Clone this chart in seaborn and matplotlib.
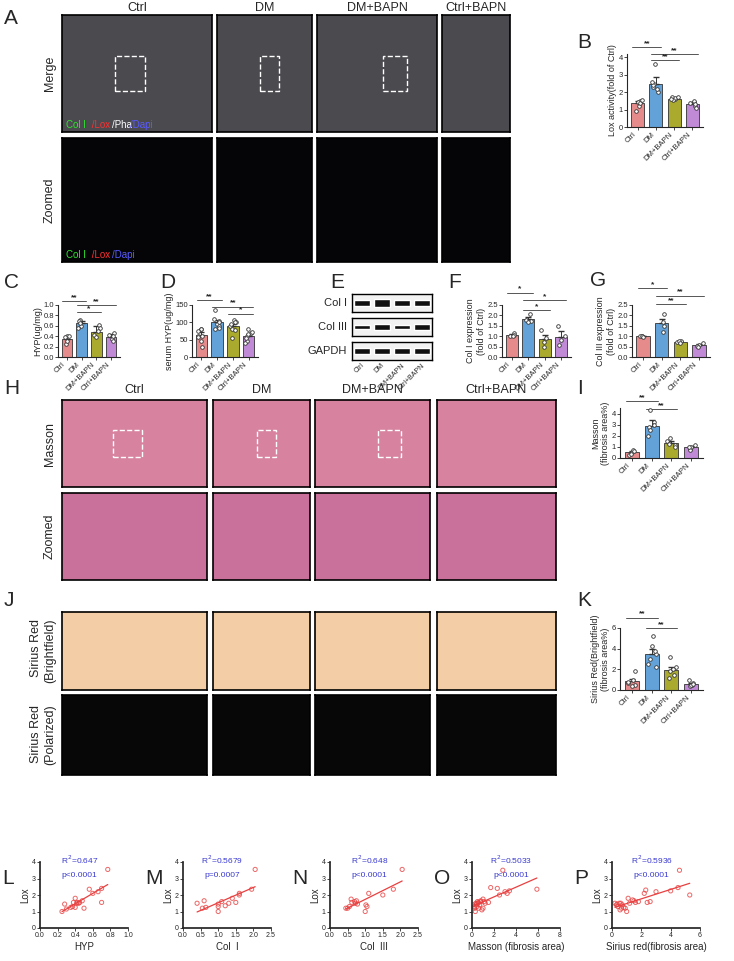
import numpy as np
import pandas as pd
import matplotlib
matplotlib.use("Agg")
import matplotlib.pyplot as plt
import seaborn as sns
from matplotlib.patches import Rectangle

sns.set_theme(style="ticks")
plt.rcParams['font.family'] = ['Liberation Sans', 'DejaVu Sans']

groups = ["Ctrl", "DM", "DM+BAPN", "Ctrl+BAPN"]
colors = ["#F47C7C", "#4FA3EC", "#BFBF1A", "#C77DE3"]

# bar panels: means, sem, points
B_mean = [1.38, 2.45, 1.62, 1.33]; B_sem = [0.1, 0.45, 0.07, 0.08]
B_pts = [[1.5, 1.45, 1.2, 0.9, 1.4, 1.55], [3.6, 2.5, 2.3, 2.0, 2.4, 2.2, 2.6], [1.6, 1.7, 1.65, 1.55, 1.6, 1.75], [1.45, 1.5, 1.2, 1.35, 1.4, 1.1]]
C_mean = [0.35, 0.65, 0.49, 0.39]; C_sem = [0.05, 0.05, 0.1, 0.06]
C_pts = [[0.41, 0.4, 0.25, 0.3, 0.38], [0.72, 0.7, 0.6, 0.55, 0.66], [0.62, 0.55, 0.42, 0.38, 0.5], [0.46, 0.42, 0.35, 0.3, 0.41]]
D_mean = [64, 100, 88, 61]; D_sem = [7, 7, 8, 6]
D_pts = [[82, 80, 60, 45, 62, 75, 30, 58], [135, 105, 95, 80, 100, 110, 90, 85], [108, 100, 90, 80, 55, 95, 78, 100], [80, 70, 60, 45, 55, 65, 40, 72]]
F_mean = [1.05, 1.82, 0.86, 0.98]; F_sem = [0.07, 0.12, 0.2, 0.25]
F_pts = [[1.15, 1.05, 1.0, 1.02], [2.05, 1.75, 1.8, 1.7], [1.3, 0.9, 0.5, 0.7], [1.5, 1.0, 0.6, 0.8]]
G_mean = [1.0, 1.62, 0.73, 0.57]; G_sem = [0.02, 0.2, 0.03, 0.05]
G_pts = [[1.0, 1.0, 1.02, 0.98], [2.05, 1.5, 1.2, 1.7], [0.75, 0.7, 0.76, 0.68], [0.6, 0.55, 0.5, 0.65]]
I_mean = [0.5, 2.9, 1.35, 0.95]; I_sem = [0.1, 0.5, 0.2, 0.12]
I_pts = [[0.3, 0.5, 0.7, 0.4, 0.6], [4.3, 3.2, 2.8, 2.0, 2.5, 3.0], [1.8, 1.2, 1.5, 1.0, 1.3], [1.2, 0.8, 1.0, 0.7, 1.0]]
K_mean = [0.85, 3.45, 1.95, 0.6]; K_sem = [0.2, 0.5, 0.3, 0.1]
K_pts = [[1.8, 1.0, 0.5, 0.7, 0.4, 0.8], [5.2, 4.3, 3.5, 2.5, 3.0, 2.2, 3.8], [3.2, 2.2, 1.8, 1.2, 1.5, 2.0], [1.0, 0.7, 0.5, 0.4, 0.5, 0.6]]

# scatter panels
L_x = [0.25, 0.28, 0.3, 0.35, 0.37, 0.38, 0.4, 0.4, 0.42, 0.42, 0.44, 0.45, 0.48, 0.5, 0.56, 0.6, 0.66, 0.7, 0.7, 0.77]
L_y = [1.0, 1.45, 1.15, 1.25, 1.3, 1.55, 1.8, 1.25, 1.5, 1.55, 1.5, 1.55, 1.65, 1.2, 2.35, 2.1, 2.2, 1.55, 2.4, 3.55]
M_x = [0.4, 0.55, 0.6, 0.65, 1.0, 1.0, 1.0, 1.1, 1.2, 1.3, 1.4, 1.5, 1.6, 1.6, 1.95, 2.05]
M_y = [1.5, 1.2, 1.65, 1.25, 1.0, 1.3, 1.45, 1.6, 1.35, 1.5, 1.8, 1.55, 2.0, 2.1, 2.35, 3.55]
N_x = [0.45, 0.5, 0.55, 0.6, 0.62, 0.7, 0.72, 0.75, 0.78, 1.0, 1.02, 1.05, 1.1, 1.5, 1.8, 2.05]
N_y = [1.2, 1.2, 1.3, 1.75, 1.55, 1.6, 1.5, 1.65, 1.45, 1.0, 1.4, 1.3, 2.1, 2.0, 2.35, 3.55]
O_x = [0.1, 0.2, 0.25, 0.3, 0.35, 0.4, 0.45, 0.5, 0.55, 0.6, 0.7, 0.8, 0.9, 1.0, 1.0, 1.2, 1.5, 1.7, 2.3, 2.5, 2.8, 3.0, 3.2, 3.4, 5.9, 0.8, 0.6, 1.1]
O_y = [1.4, 1.3, 1.2, 1.0, 1.5, 1.45, 1.3, 1.6, 1.5, 1.55, 1.4, 1.6, 1.1, 1.2, 1.75, 1.5, 1.55, 2.45, 2.4, 2.0, 3.5, 2.2, 2.1, 2.25, 2.35, 1.65, 1.2, 1.6]
P_x = [0.2, 0.3, 0.35, 0.4, 0.5, 0.55, 0.6, 0.65, 0.7, 0.8, 0.9, 1.0, 1.1, 1.2, 1.4, 1.5, 1.6, 1.8, 2.2, 2.3, 2.4, 2.6, 3.0, 4.0, 4.5, 4.6, 5.3]
P_y = [1.5, 1.4, 1.45, 1.3, 1.5, 1.1, 1.5, 1.2, 1.4, 1.25, 1.2, 1.0, 1.8, 1.5, 1.7, 1.65, 1.55, 1.6, 2.1, 2.3, 1.55, 1.6, 2.2, 2.25, 2.45, 3.5, 2.0]

W, H = 734, 961
fig = plt.figure(figsize=(W / 100, H / 100), dpi=100)
fig.patch.set_facecolor("white")

def ax_px(x0, y0, x1, y1):
    return fig.add_axes([x0 / W, 1 - y1 / H, (x1 - x0) / W, (y1 - y0) / H])

def letter(x, y, s):
    fig.text(x / W, 1 - y / H, s, fontsize=15, ha="left", va="center")

def img_panel(cols, y0, y1, color, rowlabel, box=False):
    for i, (x0, x1) in enumerate(cols):
        a = ax_px(x0, y0, x1, y1)
        a.set_facecolor(color)
        a.set_xticks([]); a.set_yticks([])
        for s in a.spines.values():
            s.set_color("black"); s.set_linewidth(1.2)
        if box and i < 3:
            a.add_patch(Rectangle((0.35 + 0.1 * i, 0.35), 0.2, 0.3, transform=a.transAxes,
                                  fill=False, ls="--", ec="white", lw=1))
    fig.text((cols[0][0] - 6) / W, 1 - (y0 + y1) / 2 / H, rowlabel, rotation=90,
             ha="right", va="center", fontsize=9)

def bar_panel(rect, mean, sem, pts, ylim, ticks, ylabel, sigs, fmt="{:g}"):
    a = ax_px(*rect)
    df = pd.DataFrame({"g": groups, "v": mean})
    sns.barplot(data=df, x="g", y="v", hue="g", palette=colors, ax=a, width=0.72,
                edgecolor="#333333", linewidth=0.6, legend=False)
    a.errorbar(range(4), mean, yerr=[[0] * 4, sem], fmt="none", ecolor="#333333", elinewidth=0.7, capsize=2)
    pdf = pd.DataFrame({"g": [groups[i] for i in range(4) for _ in pts[i]],
                        "v": [v for p in pts for v in p]})
    sns.stripplot(data=pdf, x="g", y="v", ax=a, color="white", edgecolor="#333333",
                  linewidth=0.6, size=2.6, jitter=0.22, marker="o")
    a.set_ylim(*ylim); a.set_yticks(ticks)
    a.set_yticklabels([fmt.format(t) for t in ticks], fontsize=5.5)
    a.set_xlim(-0.6, 3.6)
    a.set_xticks(range(4)); a.set_xticklabels(groups, rotation=45, ha="right", fontsize=5.5)
    a.set_xlabel(""); a.set_ylabel(ylabel, fontsize=6.5, labelpad=1)
    sns.despine(ax=a)
    a.tick_params(length=2, width=0.6, pad=1)
    for sp in ["left", "bottom"]:
        a.spines[sp].set_linewidth(0.8)
    for (i, j, h, s) in sigs:
        a.plot([i - 0.3, j + 0.3], [h, h], color="#555555", lw=0.7, clip_on=False)
        a.text((i + j) / 2, h, s, ha="center", va="bottom", fontsize=6, fontweight="bold")
    return a

# ---------- A ----------
letter(4, 18, "A")
colsA = [(62, 212), (217, 312), (317, 437), (442, 510)]
for (x0, x1), g in zip(colsA, groups):
    fig.text((x0 + x1) / 2 / W, 1 - 8 / H, g, ha="center", va="center", fontsize=9)
img_panel(colsA, 15, 132, "#4a4a4f", "Merge", box=True)
img_panel(colsA, 138, 262, "#050508", "Zoomed")
for yy, parts in [(125, [("Col I", "#2ee62e"), (" /Lox", "#ff3030"), ("/Pha", "white"), ("/Dapi", "#5a5aff")]),
                  (255, [("Col I", "#2ee62e"), (" /Lox", "#ff3030"), ("/Dapi", "#5a5aff")])]:
    x = 66
    for s, c in parts:
        fig.text(x / W, 1 - yy / H, s, color=c, fontsize=7, va="center")
        x += 4.6 * len(s)

# ---------- B ----------
letter(577, 43, "B")
bar_panel((627, 54, 703, 127), B_mean, B_sem, B_pts, (0, 4.2), [0, 1, 2, 3, 4],
          "Lox activity(fold of Ctrl)", [(0, 1, 4.6, "**"), (1, 2, 3.85, "**"), (1, 3, 4.2, "**")])

# ---------- C D E F G ----------
letter(4, 282, "C"); letter(160, 282, "D"); letter(330, 282, "E"); letter(448, 282, "F"); letter(590, 280, "G")
bar_panel((58, 305, 120, 357), C_mean, C_sem, C_pts, (0, 1.0), [0, 0.2, 0.4, 0.6, 0.8, 1.0],
          "HYP(ug/mg)", [(0, 1, 1.08, "**"), (1, 2, 0.86, "*"), (1, 3, 1.0, "**")], fmt="{:.1f}")
bar_panel((192, 305, 258, 357), D_mean, D_sem, D_pts, (0, 150), [0, 50, 100, 150],
          "serum HYP(ug/mg)", [(0, 1, 165, "**"), (2, 3, 125, "*"), (1, 3, 145, "**")])
bar_panel((502, 305, 571, 357), F_mean, F_sem, F_pts, (0, 2.5), [0, 0.5, 1.0, 1.5, 2.0, 2.5],
          "Col I expression\n(fold of Ctrl)", [(0, 1, 3.1, "*"), (1, 2, 2.25, "*"), (1, 3, 2.75, "*")], fmt="{:.1f}")
bar_panel((632, 305, 710, 357), G_mean, G_sem, G_pts, (0, 2.5), [0, 0.5, 1.0, 1.5, 2.0, 2.5],
          "Col III expression\n(fold of Ctrl)", [(0, 1, 3.3, "*"), (1, 2, 2.55, "**"), (1, 3, 2.95, "**")], fmt="{:.1f}")

# western blot
blot_rows = ["Col I", "Col III", "GAPDH"]
blot_y = [303, 327, 351]
band_int = [[0.75, 0.95, 0.7, 0.75], [0.6, 0.75, 0.6, 0.65], [0.85, 0.85, 0.8, 0.85]]
for name, yc, ints in zip(blot_rows, blot_y, band_int):
    a = ax_px(352, yc - 9, 432, yc + 9)
    a.set_facecolor("#f2f2f2")
    sns.barplot(x=list(range(4)), y=ints, color="#111111", ax=a, width=0.8)
    a.set_ylim(-0.6, 1.6)
    for p, v in zip(a.patches, ints):
        p.set_y(0.5 - v / 2); p.set_height(v)
    a.set_xticks([]); a.set_yticks([]); a.set_xlabel(""); a.set_ylabel("")
    for s in a.spines.values():
        s.set_linewidth(1.0); s.set_color("black")
    fig.text(347 / W, 1 - yc / H, name, ha="right", va="center", fontsize=8)
for i, g in enumerate(groups):
    fig.text((366 + 20 * i) / W, 1 - 362 / H, g, rotation=45, ha="right", va="top", fontsize=5)

# ---------- H ----------
letter(4, 388, "H")
colsH = [(62, 207), (213, 310), (315, 430), (437, 556)]
for (x0, x1), g in zip(colsH, groups):
    fig.text((x0 + x1) / 2 / W, 1 - 390 / H, g, ha="center", va="center", fontsize=9)
img_panel(colsH, 400, 487, "#d7839f", "Masson", box=True)
img_panel(colsH, 493, 580, "#c9719a", "Zoomed")

letter(577, 388, "I")
bar_panel((620, 408, 703, 458), I_mean, I_sem, I_pts, (0, 4.5), [0, 1, 2, 3, 4],
          "Masson\n(fibrosis area%)", [(0, 1, 5.1, "**"), (1, 2, 4.4, "**")])

# ---------- J ----------
letter(4, 600, "J")
img_panel(colsH, 612, 690, "#f2cda6", "Sirius Red\n(Brightfield)")
img_panel(colsH, 695, 775, "#070707", "Sirius Red\n(Polarized)")

letter(577, 600, "K")
bar_panel((620, 628, 703, 690), K_mean, K_sem, K_pts, (0, 6), [0, 2, 4, 6],
          "Sirius Red(Brightfield)\n(fibrosis area%)", [(0, 1, 7.0, "**"), (1, 2, 6.0, "**")])

# ---------- L-P ----------
scat = [("L", L_x, L_y, (0, 1.0), [0, 0.2, 0.4, 0.6, 0.8, 1.0], "HYP", "R$^2$=0.647", "p<0.0001", "{:.1f}"),
        ("M", M_x, M_y, (0, 2.5), [0, 0.5, 1.0, 1.5, 2.0, 2.5], "Col  I", "R$^2$=0.5679", "p=0.0007", "{:.1f}"),
        ("N", N_x, N_y, (0, 2.5), [0, 0.5, 1.0, 1.5, 2.0, 2.5], "Col  III", "R$^2$=0.648", "p<0.0001", "{:.1f}"),
        ("O", O_x, O_y, (0, 8), [0, 2, 4, 6, 8], "Masson (fibrosis area)", "R$^2$=0.5033", "p<0.0001", "{:g}"),
        ("P", P_x, P_y, (0, 6), [0, 2, 4, 6], "Sirius red(fibrosis area)", "R$^2$=0.5936", "p<0.0001", "{:g}")]
lefts = [40, 183, 330, 472, 612]
for (lab, xs, ys, xl, xt, xlab, r2, pv, fmt), x0 in zip(scat, lefts):
    a = ax_px(x0, 862, x0 + 88, 928)
    sns.regplot(x=xs, y=ys, ax=a, ci=None, truncate=True,
                scatter_kws=dict(s=9, facecolors="none", edgecolors="#e84040", linewidths=0.7),
                line_kws=dict(color="#e84040", lw=0.9))
    a.set_xlim(*xl); a.set_ylim(0, 4)
    a.set_xticks(xt); a.set_xticklabels([fmt.format(t) for t in xt], fontsize=5)
    a.set_yticks([0, 1, 2, 3, 4]); a.set_yticklabels(["0", "1", "2", "3", "4"], fontsize=5)
    a.set_xlabel(xlab, fontsize=7, labelpad=2); a.set_ylabel("Lox", fontsize=7, labelpad=1)
    sns.despine(ax=a)
    a.tick_params(length=2, width=0.6, pad=1)
    a.text(0.45, 0.97, r2, transform=a.transAxes, color="#3a3ad0", fontsize=6, ha="center")
    a.text(0.45, 0.78, pv, transform=a.transAxes, color="#3a3ad0", fontsize=6, ha="center")
    letter(x0 - 38, 878, lab)

fig.savefig("out.png", dpi=100)
